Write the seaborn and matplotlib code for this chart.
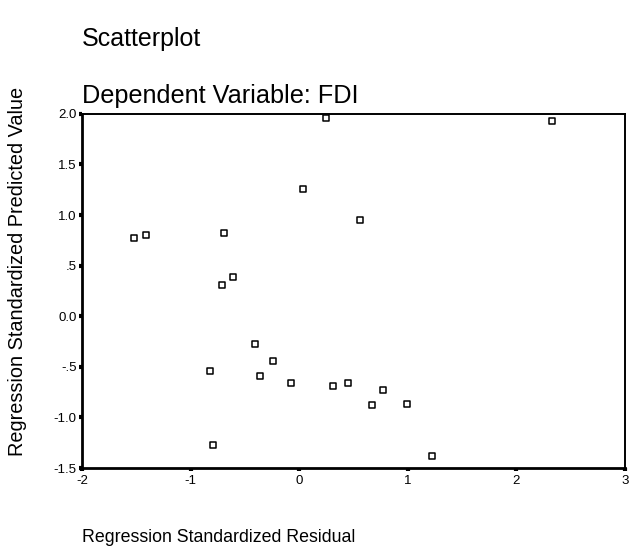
import matplotlib
matplotlib.use("Agg")
import matplotlib.pyplot as plt
import pandas as pd
import seaborn as sns

# standardized residuals vs standardized predicted values
resid = [-1.52, -1.41, -0.69, -0.71, -0.61, 0.04, 0.25, 0.56, -0.41, -0.24, -0.82,
         -0.36, -0.07, 0.31, 0.45, -0.79, 2.33, 0.77, 0.67, 0.99, 1.22]
pred = [0.77, 0.80, 0.82, 0.31, 0.39, 1.26, 1.96, 0.95, -0.27, -0.44, -0.54,
        -0.59, -0.66, -0.69, -0.66, -1.27, 1.93, -0.73, -0.88, -0.87, -1.38]

x_ticks = [-2, -1, 0, 1, 2, 3]
y_ticks = [2.0, 1.5, 1.0, 0.5, 0.0, -0.5, -1.0, -1.5]
y_tick_labels = ["2.0", "1.5", "1.0", ".5", "0.0", "-.5", "-1.0", "-1.5"]

df = pd.DataFrame({"resid": resid, "pred": pred})

sns.set_style("white")
plt.rcParams["font.family"] = ["Liberation Sans", "DejaVu Sans"]
plt.rcParams["text.color"] = "black"
plt.rcParams["axes.labelcolor"] = "black"

fig = plt.figure(figsize=(6.31, 5.5), dpi=100)
ax = fig.add_axes([0.130, 0.149, 0.860, 0.644])

sns.scatterplot(data=df, x="resid", y="pred", ax=ax, marker="s", s=24,
                facecolor="white", edgecolor="black", linewidth=1.1, zorder=3)

ax.set_xlim(-2, 3)
ax.set_ylim(-1.5, 2.0)
ax.set_xticks(x_ticks)
ax.set_xticklabels([str(t) for t in x_ticks])
ax.set_yticks(y_ticks)
ax.set_yticklabels(y_tick_labels)
ax.tick_params(axis="both", bottom=True, left=True, direction="out", length=2.5,
               width=3, colors="black", labelsize=9.5)
ax.tick_params(axis="y", pad=1.5)
ax.tick_params(axis="x", pad=2.5)

for side in ["left", "bottom"]:
    ax.spines[side].set_linewidth(2.0)
for side in ["top", "right"]:
    ax.spines[side].set_linewidth(1.4)
for sp in ax.spines.values():
    sp.set_color("black")

ax.set_xlabel("")
ax.set_ylabel("Regression Standardized Predicted Value", fontsize=14.3)
ax.yaxis.set_label_coords(-0.101, 0.556)

fig.text(82 / 631, 1 - 537 / 550, "Regression Standardized Residual",
         fontsize=12.8, ha="left", va="center")
fig.text(82 / 631, 1 - 39 / 550, "Scatterplot", fontsize=18, ha="left", va="center")
fig.text(82 / 631, 1 - 96 / 550, "Dependent Variable: FDI", fontsize=18.2,
         ha="left", va="center")

fig.savefig("out.png", dpi=100)
